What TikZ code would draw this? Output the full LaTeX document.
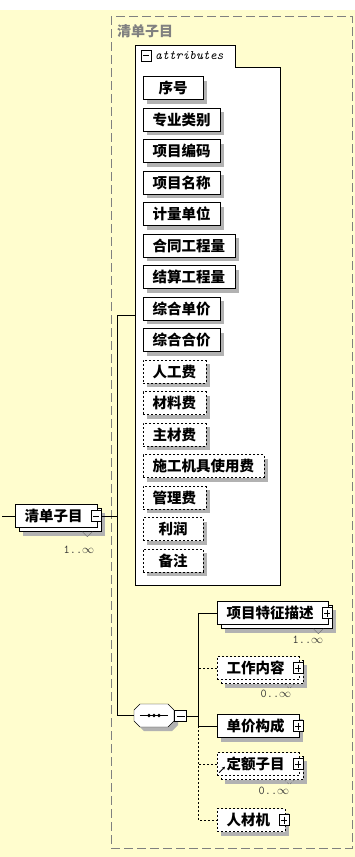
\documentclass[tikz,border=0pt]{standalone}
\usepackage{fontspec}
\usepackage{tikz}
\usetikzlibrary{shadows,arrows.meta}
\newfontfamily\cjk{Noto Sans CJK SC}
\definecolor{paper}{RGB}{255,253,206}
\definecolor{frame}{RGB}{128,128,128}
\tikzset{
  elem/.style={draw,fill=white,font=\cjk\bfseries\fontsize{14.5}{15}\selectfont,
    minimum height=23,minimum width=60,inner xsep=9.5,inner ysep=0},
  optional/.style={dash pattern=on 2pt off 2pt},
  single/.style={drop shadow={shadow xshift=4pt,shadow yshift=-4pt,fill=black!30,opacity=1}},
  multi/.style={drop shadow={shadow xshift=8pt,shadow yshift=-8pt,fill=black!30,opacity=1},
    copy shadow={shadow xshift=4pt,shadow yshift=-4pt,draw=black,fill=white,#1}},
  multi/.default=solid,
  haschild/.style={execute at end node=\hspace{5pt}},
  expbox/.style={draw,fill=white,inner sep=0,minimum width=10,minimum height=11},
  minusbox/.style={expbox,path picture={
    \draw ([xshift=2pt]path picture bounding box.west) -- ([xshift=-2pt]path picture bounding box.east);}},
  plusbox/.style={expbox,path picture={
    \draw ([xshift=2pt]path picture bounding box.west) -- ([xshift=-2pt]path picture bounding box.east);
    \draw ([yshift=-2pt]path picture bounding box.north) -- ([yshift=2pt]path picture bounding box.south);}},
  mult/.style={font=\ttfamily\fontsize{12}{12}\selectfont,text=black!80,inner sep=0},
  notch/.style={draw=black!60},
}

\begin{document}
\begin{tikzpicture}[x=1pt,y=-1pt]
  \useasboundingbox (0,0) rectangle (355,857);
  \fill[white] (0,0) rectangle (355,857);
  \fill[paper] (0,10) rectangle (355,857);
  % group frame
  \draw[frame,dash pattern=on 9pt off 4pt] (111,16) rectangle (352,848);
  \node[anchor=west,inner sep=0,text=frame,font=\cjk\bfseries\fontsize{14}{14}\selectfont] (title) at (117,31) {清单子目};

  % attributes
  \draw[fill=white] (135,45) -| (235,67) -| (280,585) -| (135,45) -- cycle;
  \node[minusbox] (attrx) at (146,55.5) {};
  \node[anchor=west,inner sep=0,font=\ttfamily\itshape\fontsize{13}{13}\selectfont] (attrlbl) at (155,56) {attributes};
  \foreach \name [count=\i] in {序号,专业类别,项目编码,项目名称,计量单位,合同工程量,结算工程量,综合单价,综合合价}
    \node[elem,single,anchor=west] (attr\i) at (143,56.5+31.5*\i) {\name};
  \foreach \name [count=\i from 10] in {人工费,材料费,主材费,施工机具使用费,管理费,利润,备注}
    \node[elem,optional,single,anchor=west] (attr\i) at (143,56.5+31.5*\i) {\name};
  \coordinate (attrs) at (135,315);

  % root element
  \node[elem,multi,haschild,anchor=west] (item) at (15,516) {清单子目};
  \node[minusbox] (itemx) at ([xshift=-1]item.east) {};
  \node[mult,anchor=north east] (itemm) at ([shift={(-3,18)}]item.south east) {1..$\infty$};
  \coordinate (inlet) at (2,516);
  \coordinate (trunk) at (117,0);

  % sequence
  \node[minimum width=40,minimum height=23,inner sep=0] (seq) at (154,715.5) {};
  \fill[black!30] ([shift={(4,4)}]seq.center) ++(-14,-11.5) -- ++(28,0) -- ++(6,6) -- ++(0,11)
    -- ++(-6,6) -- ++(-28,0) -- ++(-6,-6) -- ++(0,-11) -- cycle;
  \draw[fill=white] (seq.center) ++(-14,-11.5) -- ++(28,0) -- ++(6,6) -- ++(0,11)
    -- ++(-6,6) -- ++(-28,0) -- ++(-6,-6) -- ++(0,-11) -- cycle;
  \draw ([xshift=6]seq.west) -- ([xshift=-6]seq.east);
  \foreach \d in {-5,0,5}
    \fill ([xshift=\d]seq.center) circle (1.8);
  \node[minusbox,minimum width=12] (seqx) at (180.5,716) {};
  \coordinate (bus) at (198,0);

  % children
  \node[elem,multi,haschild,anchor=west] (feat) at (217,613) {项目特征描述};
  \node[elem,optional,multi=optional,haschild,anchor=west] (work) at (217,668) {工作内容};
  \node[elem,single,haschild,anchor=west] (price) at (217,726) {单价构成};
  \node[elem,optional,multi=optional,haschild,anchor=west] (quota) at (217,764) {定额子目};
  \node[elem,optional,single,haschild,anchor=west] (lmm) at (217,820) {人材机};
  \foreach \n in {feat,work,price,quota,lmm}
    \node[plusbox] (\n x) at ([xshift=-1]\n.east) {};
  \node[mult,anchor=north east] (featm) at ([shift={(-5,11)}]feat.south east) {1..$\infty$};
  \node[mult,anchor=north east] (workm) at ([shift={(-8,10)}]work.south east) {0..$\infty$};
  \node[mult,anchor=north east] (quotam) at ([shift={(-10,11)}]quota.south east) {0..$\infty$};
  \draw[-{Stealth[length=3pt,width=3pt]},line width=1pt] ([shift={(2,-3)}]quota.south west) -- ++(6,-6);

  % notches
  \foreach \n in {item,feat}
    \draw[notch] ([shift={(-15,4)}]\n.south east) -- ++(5,5) -- ++(5,-5);
  \foreach \n in {work,quota}
    \draw[notch,optional] ([shift={(-15,4)}]\n.south east) -- ++(5,5) -- ++(5,-5);

  % connectors
  \draw (inlet) -- (item.west);
  \draw (itemx.east) -- (itemx.east -| trunk);
  \draw (attrs) -| (trunk |- seq.west) -- (seq.west);
  \draw (seqx.east) -- (seqx.east -| bus);
  \draw (feat.west) -- (feat.west -| bus) |- (price.west);
  \draw[optional] (work.west) -- (work.west -| bus);
  \draw[optional] (price.west -| bus) |- (lmm.west);
  \draw[optional] (quota.west) -- (quota.west -| bus);
\end{tikzpicture}
\end{document}
